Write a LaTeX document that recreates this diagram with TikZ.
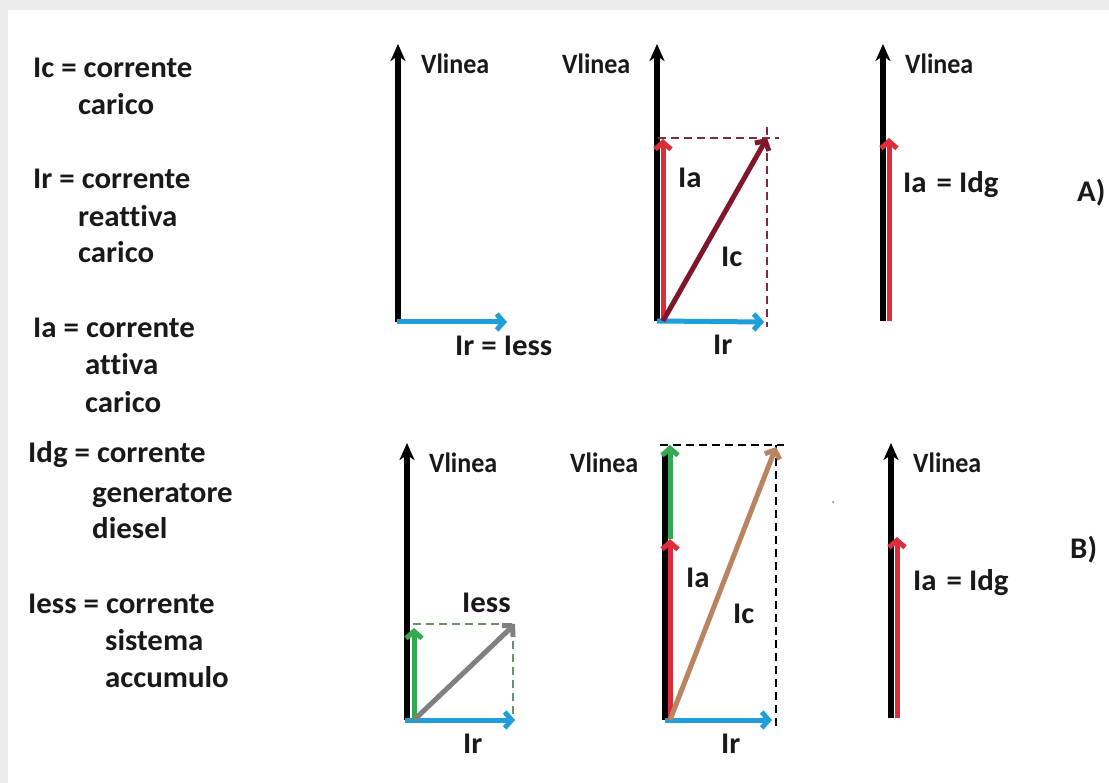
\documentclass[tikz,border=0pt]{standalone}
\usepackage{fontspec}
\setmainfont{Carlito}[Ligatures={NoCommon,NoRequired,NoContextual}, FakeStretch=1.03]
\newfontfamily\vlfont{Carlito}[Ligatures={NoCommon,NoRequired,NoContextual}, FakeStretch=0.93]
\usetikzlibrary{arrows.meta}
\definecolor{cred}{RGB}{222,45,58}
\definecolor{cblue}{RGB}{30,158,218}
\definecolor{cmaroon}{RGB}{128,22,42}
\definecolor{ctan}{RGB}{186,132,98}
\definecolor{cgreen}{RGB}{52,168,82}
\definecolor{cgray}{RGB}{128,128,128}
\definecolor{cdashm}{RGB}{125,45,60}
\definecolor{cdashg}{RGB}{110,140,110}
\definecolor{cframe}{RGB}{236,236,236}
\begin{document}
\begin{tikzpicture}[x=1pt,y=-1pt,
  lbl/.style={font=\fontsize{30}{32}\selectfont\bfseries, inner sep=0pt, anchor=base west, text=black!90},
  vlbl/.style={font=\vlfont\fontsize{28}{30}\selectfont\bfseries, inner sep=0pt, anchor=base west, text=black!90},
  vec/.style={line width=5pt, -{Straight Barb[length=7pt,width=16pt]}},
  axisvec/.style={line width=5.5pt, -{Stealth[length=17pt,width=15pt,inset=5pt]}},
  guide/.style={line width=1.4pt, dash pattern=on 8pt off 5pt}]
\fill[cframe] (0,0) rectangle (1109,783);
\fill[white] (8,10) rectangle (1109,783);
\useasboundingbox (0,0) rectangle (1109,783);

% ---------- legend ----------
\node[lbl] (l1) at (33,78) {Ic = corrente};
\node[lbl] (l2) at (78,115) {carico};
\node[lbl] (l3) at (33,189) {Ir = corrente};
\node[lbl] (l4) at (78,227) {reattiva};
\node[lbl] (l5) at (78,263) {carico};
\node[lbl] (l6) at (33,338) {Ia = corrente};
\node[lbl] (l7) at (85,375) {attiva};
\node[lbl] (l8) at (85,413) {carico};
\node[lbl] (l9) at (28,463) {Idg = corrente};
\node[lbl] (l10) at (92,502) {generatore};
\node[lbl] (l11) at (92,538) {diesel};
\node[lbl] (l12) at (28,613) {Iess = corrente};
\node[lbl] (l13) at (105,650) {sistema};
\node[lbl] (l14) at (105,687) {accumulo};

% ---------- panel A1 ----------
\coordinate (A1o) at (398,322);
\coordinate (A1v) at (398,44);
\coordinate (A1b) at (397,322);
\coordinate (A1r) at (507,322);
\draw[axisvec] (A1o) -- (A1v);
\draw[vec, cblue] (A1b) -- (A1r);
\node[vlbl] (A1V) at (421,74) {Vlinea};
\node[lbl] (A1R) at (455,356) {Ir = Iess};

% ---------- panel A2 ----------
\coordinate (A2o) at (657,321);
\coordinate (A2v) at (657,44);
\coordinate (A2ro) at (663,321);
\coordinate (A2a) at (663,139);
\coordinate (A2c) at (767,138);
\coordinate (A2r) at (764,322);
\coordinate (A2h1) at (658,138);
\coordinate (A2h2) at (779,138);
\coordinate (A2d1) at (767,127);
\coordinate (A2d2) at (767,327);
\draw[axisvec] (A2o) -- (A2v);
\draw[guide, cdashm] (A2h1) -- (A2h2);
\draw[guide, cdashm] (A2d1) -- (A2d2);
\draw[vec, cblue] (A2o) -- (A2r);
\draw[vec, cred] (A2ro) -- (A2a);
\draw[vec, cmaroon] (A2ro) -- (A2c);
\node[vlbl] (A2V) at (562,74) {Vlinea};
\node[lbl] (A2A) at (678,188) {Ia};
\node[lbl] (A2C) at (721,267) {Ic};
\node[lbl] (A2R) at (713,355) {Ir};

% ---------- panel A3 ----------
\coordinate (A3o) at (883,321);
\coordinate (A3v) at (883,44);
\coordinate (A3ro) at (889,321);
\coordinate (A3a) at (889,138);
\draw[axisvec] (A3o) -- (A3v);
\draw[white, line width=6pt] (A3ro) -- ([yshift=12pt]A3a);
\draw[vec, cred] (A3ro) -- (A3a);
\node[vlbl] (A3V) at (905,74) {Vlinea};
\node[lbl] (A3A) at (903,193) {Ia\,\,= Idg};
\node[lbl] (A3L) at (1077,202) {A)};

% ---------- panel B1 ----------
\coordinate (B1o) at (407,720);
\coordinate (B1v) at (407,443);
\coordinate (B1go) at (414,720);
\coordinate (B1g) at (414,628);
\coordinate (B1s) at (515,624);
\coordinate (B1b) at (405,720);
\coordinate (B1r) at (515,720);
\coordinate (B1h1) at (413,624);
\coordinate (B1h2) at (513,624);
\coordinate (B1d2) at (513,720);
\draw[axisvec] (B1o) -- (B1v);
\draw[guide, cdashg] (B1h1) -- (B1h2) -- (B1d2);
\draw[vec, cblue] (B1b) -- (B1r);
\draw[vec, cgreen] (B1go) -- (B1g);
\draw[vec, cgray] (B1go) -- (B1s);
\node[vlbl] (B1V) at (429,472) {Vlinea};
\node[lbl] (B1S) at (462,612) {Iess};
\node[lbl] (B1R) at (463,753) {Ir};

% ---------- panel B2 ----------
\coordinate (B2o) at (665,720);
\coordinate (B2v) at (665,452);
\coordinate (B2ro) at (670,720);
\coordinate (B2a) at (670,539);
\coordinate (B2g) at (670,445);
\coordinate (B2c) at (776,447);
\coordinate (B2r) at (772,720);
\coordinate (B2h1) at (660,445);
\coordinate (B2h2) at (784,445);
\coordinate (B2d1) at (776,445);
\coordinate (B2d2) at (776,726);
\draw[line width=5.5pt] (B2o) -- (B2v);
\draw[guide, black] (B2h1) -- (B2h2);
\draw[guide, black] (B2d1) -- (B2d2);
\draw[vec, cblue] (B2o) -- (B2r);
\draw[vec, cgreen] (B2a) -- (B2g);
\draw[vec, cred] (B2ro) -- (B2a);
\draw[vec, ctan] (B2ro) -- (B2c);
\node[vlbl] (B2V) at (570,473) {Vlinea};
\node[lbl] (B2A) at (686,587) {Ia};
\node[lbl] (B2C) at (733,623) {Ic};
\node[lbl] (B2R) at (721,753) {Ir};

% ---------- panel B3 ----------
\coordinate (B3o) at (891,718);
\coordinate (B3v) at (891,443);
\coordinate (B3ro) at (897,718);
\coordinate (B3a) at (897,537);
\draw[axisvec] (B3o) -- (B3v);
\draw[white, line width=6pt] (B3ro) -- ([yshift=12pt]B3a);
\draw[vec, cred] (B3ro) -- (B3a);
\node[vlbl] (B3V) at (913,472) {Vlinea};
\node[lbl] (B3A) at (913,590) {Ia\,\,= Idg};
\node[lbl] (B3L) at (1070,558) {B)};
\fill[cgray] (833,502) circle (1pt);
\end{tikzpicture}
\end{document}
